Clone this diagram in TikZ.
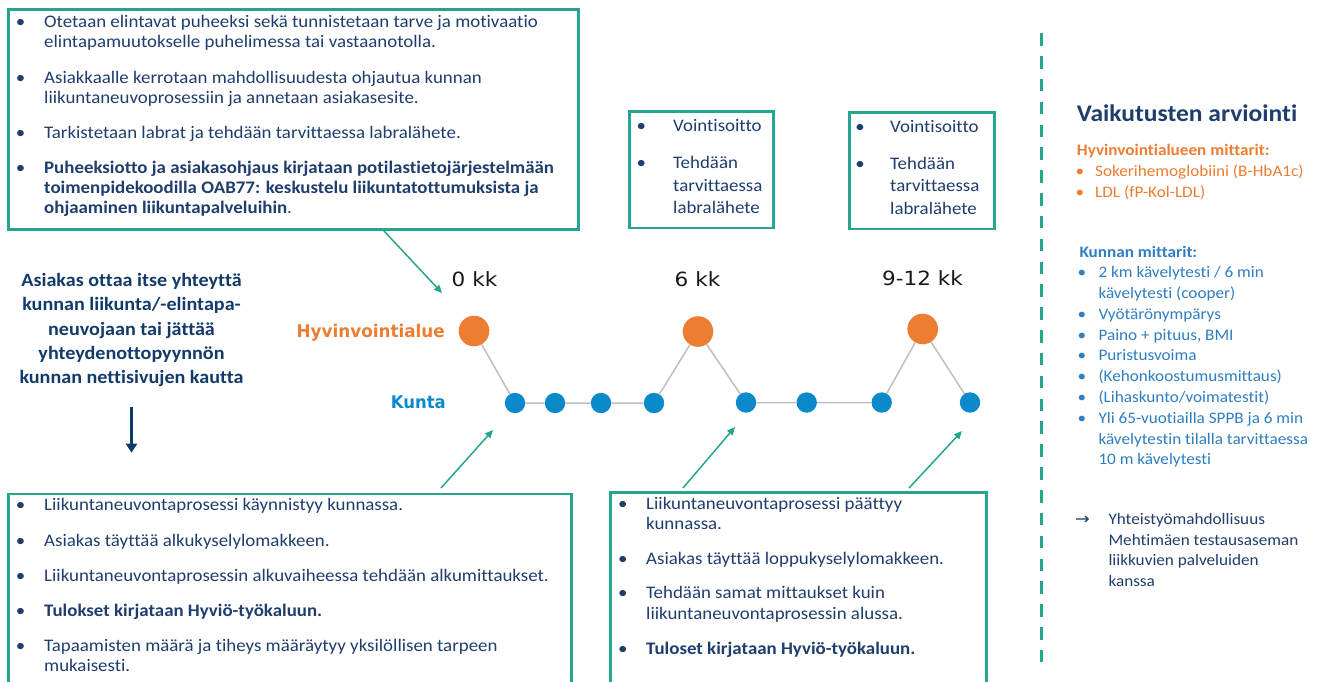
\documentclass[tikz,border=0pt]{standalone}
\usepackage{fontspec}
\setmainfont{Carlito}[FakeStretch=1.07,Ligatures=NoCommon]
\newfontfamily\dvs{DejaVu Sans}[FakeStretch=1.1]
\newfontfamily\dvsc{DejaVu Sans}[FakeStretch=0.96]
\newfontfamily\dvsk{DejaVu Sans}[FakeStretch=0.94]
\usetikzlibrary{arrows.meta}
\definecolor{tealc}{RGB}{38,165,142}
\definecolor{navy}{RGB}{31,62,109}
\definecolor{darknavy}{RGB}{18,58,106}
\definecolor{orangec}{RGB}{237,125,49}
\definecolor{bluec}{RGB}{10,138,202}
\definecolor{midblue}{RGB}{47,126,194}
\definecolor{grayl}{RGB}{191,191,191}
\begin{document}
\begin{tikzpicture}[x=1pt,y=-1pt,
  box/.style={draw=tealc, line width=2.6pt, inner sep=0pt, anchor=north west},
  txt/.style={inner sep=0pt, anchor=west, text height=12.4pt, text depth=3.6pt, text=navy, font=\fontsize{17.65}{20.7}\selectfont},
  bul/.style={txt, anchor=center},
  rtxt/.style={inner sep=0pt, anchor=west, text height=11.3pt, text depth=3.1pt, font=\fontsize{16.05}{20.7}\selectfont},
  rbul/.style={rtxt, anchor=center},
  ltxt/.style={inner sep=0pt, anchor=center, text height=13.4pt, text depth=4.1pt, text=darknavy, font=\bfseries\fontsize{18.8}{24}\selectfont},
  klabel/.style={inner sep=0pt, anchor=center, text=black!90, font=\dvs\fontsize{19.6}{22}\selectfont},
  rowlabel/.style={inner sep=0pt, anchor=east, font=\bfseries\fontsize{17.5}{20}\selectfont},
  odot/.style={circle, fill=orangec, minimum size=30.6pt, inner sep=0pt},
  bdot/.style={circle, fill=bluec, minimum size=20.4pt, inner sep=0pt},
  gline/.style={draw=grayl, line width=1.5pt},
  tarrow/.style={draw=tealc, line width=1.5pt, -{Triangle[length=8pt,width=7pt]}},
  darrow/.style={draw=darknavy, line width=3.5pt, -{Triangle[length=9pt,width=11pt]}}
]
\fill[white] (0,0) rectangle (1322,681);
\useasboundingbox (0,0) rectangle (1322,681);

% ---------- top-left box ----------
\node[box, minimum width=570pt, minimum height=219.7pt] (topbox) at (7.3,8.3) {};
\node[bul] (tb1) at (20.7,22.7) {\textbullet};
\node[txt] (t1a) at (44,22.7) {Otetaan elintavat puheeksi sekä tunnistetaan tarve ja motivaatio};
\node[txt] (t1b) at (44,43.3) {elintapamuutokselle puhelimessa tai vastaanotolla.};
\node[bul] (tb2) at (20.7,79) {\textbullet};
\node[txt] (t2a) at (44,79) {Asiakkaalle kerrotaan mahdollisuudesta ohjautua kunnan};
\node[txt] (t2b) at (44,98.7) {liikuntaneuvoprosessiin ja annetaan asiakasesite.};
\node[bul] (tb3) at (20.7,134) {\textbullet};
\node[txt] (t3a) at (44,134) {Tarkistetaan labrat ja tehdään tarvittaessa labralähete.};
\node[bul] (tb4) at (20.7,169) {\textbullet};
\node[txt] (t4a) at (44,169) {\bfseries Puheeksiotto ja asiakasohjaus kirjataan potilastietojärjestelmään};
\node[txt] (t4b) at (44,189) {\bfseries toimenpidekoodilla OAB77: keskustelu liikuntatottumuksista ja};
\node[txt] (t4c) at (44,209) {\textbf{ohjaaminen liikuntapalveluihin}.};

% ---------- small boxes ----------
\node[box, minimum width=143.7pt, minimum height=116.7pt] (sbox1) at (628.3,110) {};
\node[bul] (s1b1) at (641.3,127.3) {\textbullet};
\node[txt] (s1a) at (673,127.3) {Vointisoitto};
\node[bul] (s1b2) at (641.3,164.3) {\textbullet};
\node[txt] (s1b) at (673,164.3) {Tehdään};
\node[txt] (s1c) at (673,187.3) {tarvittaessa};
\node[txt] (s1d) at (673,209) {labralähete};

\node[box, minimum width=145pt, minimum height=116.7pt] (sbox2) at (848,111) {};
\node[bul] (s2b1) at (860,128.3) {\textbullet};
\node[txt] (s2a) at (890,128.3) {Vointisoitto};
\node[bul] (s2b2) at (860,165) {\textbullet};
\node[txt] (s2b) at (890,165) {Tehdään};
\node[txt] (s2c) at (890,187.3) {tarvittaessa};
\node[txt] (s2d) at (890,210) {labralähete};

% ---------- left text ----------
\node[ltxt] (l1) at (131.5,281.7) {Asiakas ottaa itse yhteyttä};
\node[ltxt] (l2) at (131.5,306.1) {kunnan liikunta/-elintapa-};
\node[ltxt] (l3) at (131.5,330.5) {neuvojaan tai jättää};
\node[ltxt] (l4) at (131.5,354.9) {yhteydenottopyynnön};
\node[ltxt] (l5) at (131.5,379.3) {kunnan nettisivujen kautta};
\coordinate (da1) at (131.5,406.7);
\coordinate (da2) at (131.5,452.7);
\draw[darrow] (da1) -- (da2);

% ---------- timeline ----------
\node[klabel] (k0) at (474.5,279) {0 kk};
\node[klabel] (k6) at (697.5,279) {6 kk};
\node[klabel] (k912) at (922.5,278) {9-12 kk};
\node[rowlabel, text=orangec, font=\dvsc\bfseries\fontsize{17.5}{20}\selectfont] (hyv) at (445,333) {Hyvinvointialue};
\node[rowlabel, text=bluec, font=\dvsk\bfseries\fontsize{17.5}{20}\selectfont] (kun) at (446,402) {Kunta};

\node[odot] (o1) at (474,331) {};
\node[odot] (o2) at (698,331.5) {};
\node[odot] (o3) at (922.7,329) {};
\node[bdot] (b1) at (515,403) {};
\node[bdot] (b2) at (555,403) {};
\node[bdot] (b3) at (601,403) {};
\node[bdot] (b4) at (654,403) {};
\node[bdot] (b5) at (746,402.5) {};
\node[bdot] (b6) at (806.7,402.5) {};
\node[bdot] (b7) at (881.7,402.5) {};
\node[bdot] (b8) at (970,402.5) {};
\draw[gline] (o1) -- (b1) -- (b2) -- (b3) -- (b4) -- (o2) -- (b5) -- (b6) -- (b7) -- (o3) -- (b8);

% ---------- teal arrows ----------
\coordinate (a0s) at (384,231);
\coordinate (a0e) at (442,293);
\draw[tarrow] (a0s) -- (a0e);
\coordinate (a1s) at (441,488);
\coordinate (a1e) at (493,430);
\draw[tarrow] (a1s) -- (a1e);
\coordinate (a2s) at (683,488);
\coordinate (a2e) at (735,427);
\draw[tarrow] (a2s) -- (a2e);
\coordinate (a3s) at (909,488);
\coordinate (a3e) at (962,431);
\draw[tarrow] (a3s) -- (a3e);

% ---------- bottom-left box ----------
\node[box, minimum width=563pt, minimum height=197.3pt] (blbox) at (7.3,492.7) {};
\node[bul] (bl1b) at (20.7,506) {\textbullet};
\node[txt] (bl1) at (44,506) {Liikuntaneuvontaprosessi käynnistyy kunnassa.};
\node[bul] (bl2b) at (20.7,541.7) {\textbullet};
\node[txt] (bl2) at (44,541.7) {Asiakas täyttää alkukyselylomakkeen.};
\node[bul] (bl3b) at (20.7,577.3) {\textbullet};
\node[txt] (bl3) at (44,577.3) {Liikuntaneuvontaprosessin alkuvaiheessa tehdään alkumittaukset.};
\node[bul] (bl4b) at (20.7,611.7) {\textbullet};
\node[txt] (bl4) at (44,611.7) {\bfseries Tulokset kirjataan Hyviö-työkaluun.};
\node[bul] (bl5b) at (20.7,646.7) {\textbullet};
\node[txt] (bl5) at (44,646.7) {Tapaamisten määrä ja tiheys määräytyy yksilöllisen tarpeen};
\node[txt] (bl5c) at (44,666.7) {mukaisesti.};

% ---------- bottom-middle box ----------
\node[box, minimum width=376pt, minimum height=199pt] (bmbox) at (609.3,491) {};
\node[bul] (bm1b) at (622.7,505) {\textbullet};
\node[txt] (bm1) at (646,505) {Liikuntaneuvontaprosessi päättyy};
\node[txt] (bm1c) at (646,525) {kunnassa.};
\node[bul] (bm2b) at (622.7,560) {\textbullet};
\node[txt] (bm2) at (646,560) {Asiakas täyttää loppukyselylomakkeen.};
\node[bul] (bm3b) at (622.7,594.3) {\textbullet};
\node[txt] (bm3) at (646,594.3) {Tehdään samat mittaukset kuin};
\node[txt] (bm3c) at (646,615) {liikuntaneuvontaprosessin alussa.};
\node[bul] (bm4b) at (622.7,650) {\textbullet};
\node[txt] (bm4) at (646,650) {\bfseries Tuloset kirjataan Hyviö-työkaluun.};

% ---------- dashed separator ----------
\coordinate (ds1) at (1041.7,33.2);
\coordinate (ds2) at (1041.7,662.7);
\draw[tealc, line width=2.7pt, dash pattern=on 12.5pt off 10.34pt] (ds1) -- (ds2);

% ---------- right panel ----------
\node[rtxt, text=navy, font=\bfseries\fontsize{23.85}{26}\selectfont, text height=16.4pt, text depth=4.1pt] (rh) at (1076.7,115) {Vaikutusten arviointi};
\node[rtxt, text=orangec, font=\bfseries\fontsize{16.05}{20.7}\selectfont] (ro) at (1076.7,151.7) {Hyvinvointialueen mittarit:};
\node[rbul, text=orangec] (ro1b) at (1080,172.3) {\textbullet};
\node[rtxt, text=orangec] (ro1) at (1095,172.3) {Sokerihemoglobiini (B-HbA1c)};
\node[rbul, text=orangec] (ro2b) at (1080,193.3) {\textbullet};
\node[rtxt, text=orangec] (ro2) at (1095,193.3) {LDL (fP-Kol-LDL)};

\node[rtxt, text=midblue, font=\bfseries\fontsize{16.05}{20.7}\selectfont] (rk) at (1079.3,253.3) {Kunnan mittarit:};
\node[rbul, text=midblue] (rk1b) at (1082,273.3) {\textbullet};
\node[rtxt, text=midblue] (rk1) at (1098.3,273.3) {2 km kävelytesti / 6 min};
\node[rtxt, text=midblue] (rk1c) at (1098.3,294.3) {kävelytesti (cooper)};
\node[rbul, text=midblue] (rk2b) at (1082,315) {\textbullet};
\node[rtxt, text=midblue] (rk2) at (1098.3,315) {Vyötärönympärys};
\node[rbul, text=midblue] (rk3b) at (1082,336.2) {\textbullet};
\node[rtxt, text=midblue] (rk3) at (1098.3,336.2) {Paino + pituus, BMI};
\node[rbul, text=midblue] (rk4b) at (1082,356.7) {\textbullet};
\node[rtxt, text=midblue] (rk4) at (1098.3,356.7) {Puristusvoima};
\node[rbul, text=midblue] (rk5b) at (1082,377.7) {\textbullet};
\node[rtxt, text=midblue] (rk5) at (1098.3,377.7) {(Kehonkoostumusmittaus)};
\node[rbul, text=midblue] (rk6b) at (1082,398.3) {\textbullet};
\node[rtxt, text=midblue] (rk6) at (1098.3,398.3) {(Lihaskunto/voimatestit)};
\node[rbul, text=midblue] (rk7b) at (1082,419.5) {\textbullet};
\node[rtxt, text=midblue] (rk7) at (1098.3,419.5) {Yli 65-vuotiailla SPPB ja 6 min};
\node[rtxt, text=midblue] (rk7c) at (1098.3,440) {kävelytestin tilalla tarvittaessa};
\node[rtxt, text=midblue] (rk7d) at (1098.3,460.5) {10 m kävelytesti};

\node[rtxt, text=navy, font=\dvs\fontsize{16}{18}\selectfont] (rarr) at (1075,520) {→};
\node[rtxt, text=navy] (ry1) at (1108.3,520) {Yhteistyömahdollisuus};
\node[rtxt, text=navy] (ry2) at (1108.3,541.2) {Mehtimäen testausaseman};
\node[rtxt, text=navy] (ry3) at (1108.3,561.7) {liikkuvien palveluiden};
\node[rtxt, text=navy] (ry4) at (1108.3,582) {kanssa};
\end{tikzpicture}
\end{document}
